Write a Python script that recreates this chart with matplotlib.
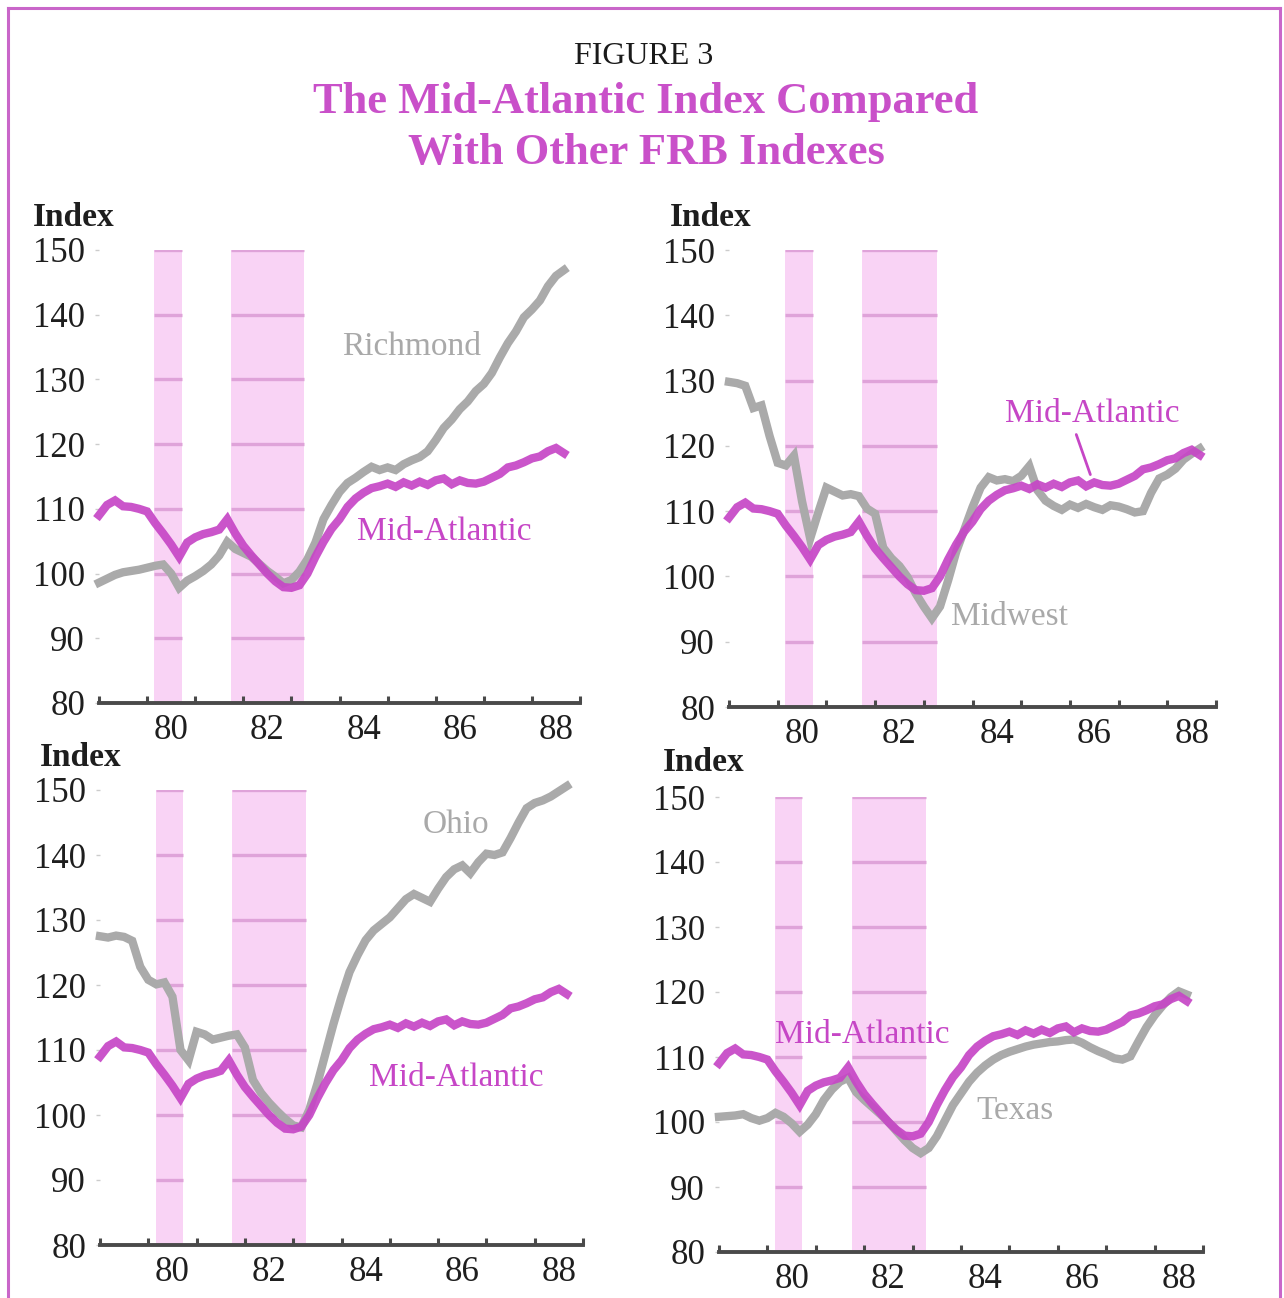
"""Figure 3: the Mid-Atlantic index compared with other FRB regional indexes."""
import numpy as np
import matplotlib
matplotlib.use("Agg")
import matplotlib.pyplot as plt
from matplotlib.lines import Line2D

W, H = 1284, 1298

# bimonthly observations, Jan 1979 .. Sep 1988
dates = 1979 + np.arange(59) / 6.0

mid_atlantic = [
    109.0, 110.6, 111.3, 110.4, 110.3, 110.0,
    109.6, 107.8, 106.2, 104.5, 102.6, 104.8,
    105.6, 106.1, 106.4, 106.8, 108.4, 106.2,
    104.3, 102.8, 101.4, 100.0, 98.8, 97.9,
    97.8, 98.2, 100.0, 102.6, 104.9, 106.9,
    108.4, 110.3, 111.6, 112.5, 113.2, 113.5,
    113.9, 113.4, 114.1, 113.6, 114.2, 113.7,
    114.4, 114.7, 113.8, 114.4, 114.0, 113.9,
    114.2, 114.8, 115.4, 116.4, 116.7, 117.2,
    117.8, 118.1, 118.9, 119.4, 118.6,
]
richmond = [
    98.6, 99.2, 99.8, 100.2, 100.4, 100.6,
    100.9, 101.2, 101.4, 100.0, 97.8, 98.9,
    99.6, 100.4, 101.4, 102.8, 104.9, 103.8,
    103.2, 102.6, 101.5, 100.4, 99.5, 98.5,
    99.0, 100.3, 102.2, 104.8, 108.4, 110.6,
    112.6, 114.0, 114.8, 115.7, 116.5, 116.0,
    116.4, 116.0, 116.9, 117.5, 118.0, 118.9,
    120.6, 122.5, 123.8, 125.4, 126.6, 128.2,
    129.3, 131.0, 133.4, 135.6, 137.4, 139.6,
    140.8, 142.2, 144.4, 146.0, 146.9,
]
midwest = [
    129.8, 129.6, 129.2, 125.8, 126.2, 121.5,
    117.4, 117.0, 118.5, 111.5, 105.8, 109.8,
    113.6, 113.0, 112.4, 112.6, 112.3, 110.4,
    109.6, 104.4, 102.8, 101.6, 99.9, 97.4,
    95.4, 93.6, 95.4, 99.4, 103.8, 107.2,
    110.6, 113.6, 115.2, 114.7, 114.9, 114.6,
    115.4, 116.9, 113.2, 111.6, 110.8, 110.2,
    111.0, 110.5, 111.1, 110.6, 110.2, 110.9,
    110.7, 110.3, 109.8, 110.0, 112.8, 115.0,
    115.6, 116.5, 117.9, 118.8, 119.6,
]
ohio = [
    127.5, 127.3, 127.6, 127.4, 126.8, 122.8,
    120.8, 120.1, 120.4, 118.2, 110.0, 108.4,
    112.8, 112.4, 111.6, 111.9, 112.2, 112.4,
    110.4, 105.4, 103.4, 101.9, 100.6, 99.4,
    98.4, 98.1, 100.8, 104.8, 109.4, 114.0,
    118.2, 122.0, 124.6, 126.9, 128.4, 129.4,
    130.4, 131.8, 133.2, 134.0, 133.4, 132.8,
    134.8, 136.6, 137.8, 138.4, 137.2, 138.9,
    140.2, 140.0, 140.4, 142.6, 145.0, 147.2,
    148.0, 148.4, 149.0, 149.8, 150.6,
]
texas = [
    100.8, 100.9, 101.0, 101.2, 100.6, 100.2,
    100.6, 101.4, 100.8, 99.8, 98.5, 99.6,
    101.2, 103.4, 105.0, 106.2, 106.8, 104.6,
    103.4, 102.3, 101.2, 100.0, 98.6, 97.2,
    96.0, 95.2, 96.0, 97.8, 100.2, 102.6,
    104.4, 106.2, 107.6, 108.7, 109.6, 110.3,
    110.8, 111.2, 111.6, 111.9, 112.1, 112.3,
    112.4, 112.6, 112.7, 112.2, 111.5, 110.9,
    110.4, 109.8, 109.6, 110.1, 112.4, 114.6,
    116.4, 117.9, 119.2, 120.1, 119.6,
]

# shaded recession periods
recessions = [(1980.15, 1980.72), (1981.74, 1983.27)]

y_ticks = [80, 90, 100, 110, 120, 130, 140, 150]
x_label_pos = [1980.5, 1982.5, 1984.5, 1986.5, 1988.5]
x_labels = ["80", "82", "84", "86", "88"]

MAGENTA = "#c646c6"
GRAY = "#aaaaaa"
BAND = "#f9d3f5"
BAND_GRID = "#dfa3d9"
TITLE = "#c950c9"
FONT = "Liberation Serif"

plt.rcParams["font.family"] = FONT


def px_rect(x0, y0, x1, y1):
    return [x0 / W, 1 - y1 / H, (x1 - x0) / W, (y1 - y0) / H]


def draw_panel(ax, other, other_name, other_pos, ma_pos, leader=None):
    for start, end in recessions:
        ax.axvspan(start, end, ymin=0, ymax=1, color=BAND, lw=0, zorder=0)
        for yv in y_ticks[1:]:
            ax.plot([start, end], [yv, yv], color=BAND_GRID, lw=2.4,
                    solid_capstyle="butt", zorder=1)

    ax.plot(dates, other, color=GRAY, lw=6, zorder=3,
            solid_joinstyle="miter", clip_on=False)
    ax.plot(dates, mid_atlantic, color=MAGENTA, lw=6, alpha=0.92, zorder=4,
            solid_joinstyle="miter", clip_on=False)

    ax.text(other_pos[0], other_pos[1], other_name, color="#a9a9a9",
            fontsize=24, ha="center", va="center", zorder=5)
    if leader is None:
        ax.text(ma_pos[0], ma_pos[1], "Mid-Atlantic", color=MAGENTA,
                fontsize=24, ha="center", va="center", zorder=5)
    else:
        ax.annotate("Mid-Atlantic", xy=leader, xytext=ma_pos, color=MAGENTA,
                    fontsize=24, ha="center", va="center", zorder=5,
                    arrowprops=dict(arrowstyle="-", color=MAGENTA, lw=2,
                                    relpos=(0.4, 0.0), shrinkA=2, shrinkB=0))

    ax.set_xlim(1979, 1989)
    ax.set_ylim(80, 150)
    ax.set_yticks(y_ticks)
    ax.set_yticklabels([str(v) for v in y_ticks])
    ax.set_xticks(np.arange(1979, 1990))
    ax.set_xticklabels([])
    ax.set_xticks(x_label_pos, minor=True)
    ax.set_xticklabels(x_labels, minor=True)

    for side in ("top", "right", "left"):
        ax.spines[side].set_visible(False)
    ax.spines["bottom"].set_color("#4a4a4a")
    ax.spines["bottom"].set_linewidth(2.8)

    ax.tick_params(axis="x", which="major", direction="in", length=5,
                   width=2.2, color="#4a4a4a")
    ax.tick_params(axis="x", which="minor", length=0, pad=8,
                   labelsize=25, labelcolor="#1e1e1e")
    ax.tick_params(axis="y", length=3, width=1, color="#cccccc", pad=7,
                   labelsize=25, labelcolor="#1e1e1e")
    ax.set_facecolor("none")


fig = plt.figure(figsize=(W / 100, H / 100), dpi=100)

ax_tl = fig.add_axes(px_rect(99, 250, 580, 703))
ax_tr = fig.add_axes(px_rect(729, 250, 1216, 707))
ax_bl = fig.add_axes(px_rect(100, 790, 583, 1245))
ax_br = fig.add_axes(px_rect(719, 797, 1203, 1252))

draw_panel(ax_tl, richmond, "Richmond", (1985.5, 135.0), (1986.17, 106.4))
draw_panel(ax_tr, midwest, "Midwest", (1984.77, 93.8), (1986.45, 124.9),
           leader=(1986.42, 115.6))
draw_panel(ax_bl, ohio, "Ohio", (1986.37, 144.6), (1986.37, 105.7))
draw_panel(ax_br, texas, "Texas", (1985.12, 101.8), (1981.95, 113.4))

# "Index" unit labels
for x, y in [(33, 217), (670, 218), (40, 758), (663, 762)]:
    fig.text(x / W, 1 - y / H, "Index", fontsize=24, fontweight="bold",
             color="#1e1e1e", ha="left", va="center")

# titles
fig.text(644 / W, 1 - 56 / H, "FIGURE 3", fontsize=23, color="#1a1a1a",
         ha="center", va="center")
fig.text(646 / W, 1 - 102 / H, "The Mid-Atlantic Index Compared",
         fontsize=32, fontweight="bold", color=TITLE, ha="center", va="center")
fig.text(646 / W, 1 - 153 / H, "With Other FRB Indexes",
         fontsize=32, fontweight="bold", color=TITLE, ha="center", va="center")

# page border
for xs, ys in [([8, 1280], [8, 8]), ([8, 8], [8, H]), ([1280, 1280], [8, H])]:
    fig.add_artist(Line2D([x / W for x in xs], [1 - y / H for y in ys],
                          color="#c966c9", lw=2.2))

fig.savefig("out.png", dpi=100)
